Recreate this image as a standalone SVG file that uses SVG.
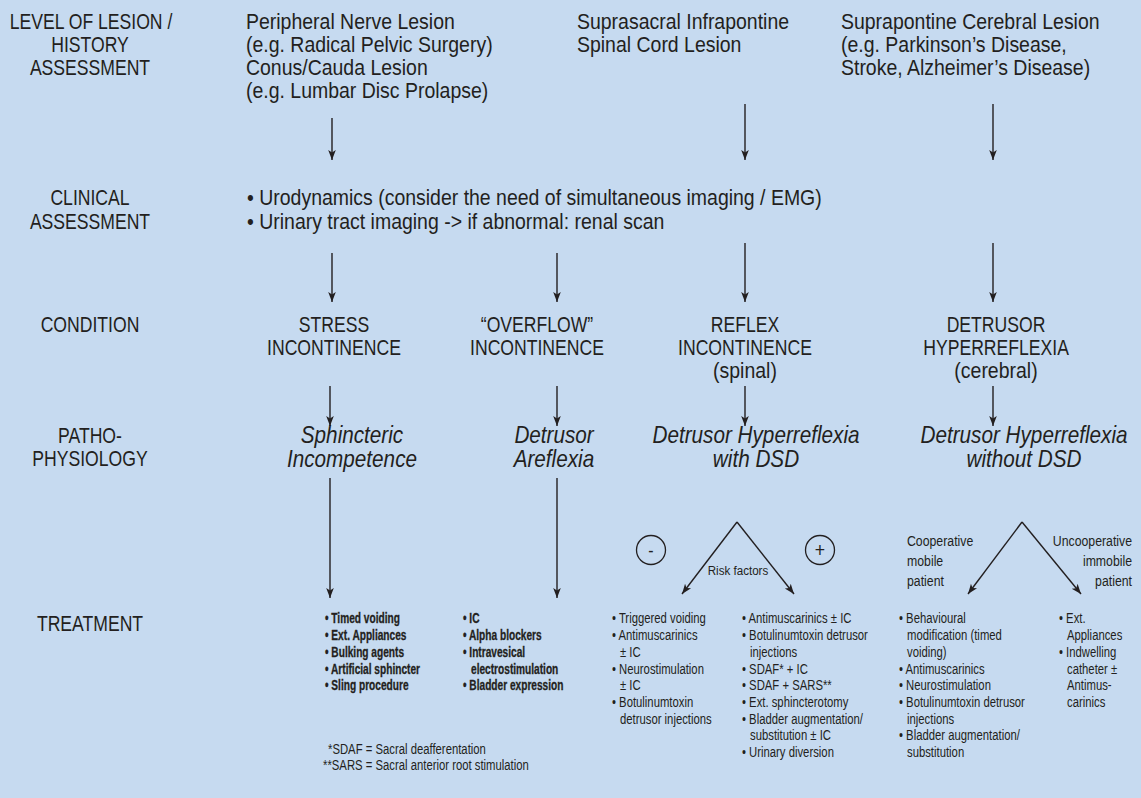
<svg xmlns="http://www.w3.org/2000/svg" width="1141" height="798" viewBox="0 0 1141 798">
<defs>
<marker id="ah" viewBox="0 0 10 10" refX="10" refY="5" markerWidth="10" markerHeight="10" markerUnits="userSpaceOnUse" orient="auto">
<path d="M0,1.2 L10,5 L0,8.8 L2.5,5 Z" fill="#231f20"/>
</marker>
<style>
text{font-family:"Liberation Sans",Arial,sans-serif;fill:#231f20;transform-box:fill-box}
.st{transform-origin:0% 50%}
.mid{text-anchor:middle;transform-origin:50% 50%}
.end{text-anchor:end;transform-origin:100% 50%}
.C{font-size:22px;transform:scaleX(.8)}
.L{font-size:22px;transform:scaleX(.885)}
.I{font-size:23px;font-style:italic;transform:scaleX(.9)}
.S{font-size:14.5px;transform:scaleX(.78)}
.B{font-size:14.5px;font-weight:bold;transform:scaleX(.7);stroke:#231f20;stroke-width:.3}
.M{font-size:15px;transform:scaleX(.82)}
.R{font-size:13.5px;transform:scaleX(.86)}
.con line{stroke:#231f20;stroke-width:1.4;fill:none}
.ar{marker-end:url(#ah)}
.circ{fill:none;stroke:#231f20;stroke-width:1.3}
</style>
</defs>
<rect x="0" y="0" width="1141" height="798" fill="#c6daf0"/>

<g id="labels">
<text class="C mid" x="91" y="29">LEVEL OF LESION /</text>
<text class="C mid" x="90" y="52">HISTORY</text>
<text class="C mid" x="90" y="75">ASSESSMENT</text>
<text class="C mid" x="90" y="205">CLINICAL</text>
<text class="C mid" x="90" y="229">ASSESSMENT</text>
<text class="C mid" x="90" y="332">CONDITION</text>
<text class="C mid" x="90" y="443">PATHO-</text>
<text class="C mid" x="90" y="466">PHYSIOLOGY</text>
<text class="C mid" x="90" y="631">TREATMENT</text>
</g>

<g id="lesion-peripheral">
<text class="L st" x="246" y="29">Peripheral Nerve Lesion</text>
<text class="L st" x="246" y="52">(e.g. Radical Pelvic Surgery)</text>
<text class="L st" x="246" y="75">Conus/Cauda Lesion</text>
<text class="L st" x="246" y="98">(e.g. Lumbar Disc Prolapse)</text>
</g>
<g id="lesion-spinal">
<text class="L st" x="577" y="29">Suprasacral Infrapontine</text>
<text class="L st" x="577" y="52">Spinal Cord Lesion</text>
</g>
<g id="lesion-cerebral">
<text class="L st" x="841" y="29">Suprapontine Cerebral Lesion</text>
<text class="L st" x="841" y="52">(e.g. Parkinson’s Disease,</text>
<text class="L st" x="841" y="75">Stroke, Alzheimer’s Disease)</text>
</g>

<g id="clinical">
<text class="L st" x="247" y="205">• Urodynamics (consider the need of simultaneous imaging / EMG)</text>
<text class="L st" x="247" y="229">• Urinary tract imaging -&gt; if abnormal: renal scan</text>
</g>

<g id="cond-stress">
<text class="C mid" x="334" y="332">STRESS</text>
<text class="C mid" x="334" y="355">INCONTINENCE</text>
</g>
<g id="cond-overflow">
<text class="C mid" x="537" y="332">“OVERFLOW”</text>
<text class="C mid" x="537" y="355">INCONTINENCE</text>
</g>
<g id="cond-reflex">
<text class="C mid" x="745" y="332">REFLEX</text>
<text class="C mid" x="745" y="355">INCONTINENCE</text>
<text class="L mid" x="745" y="378">(spinal)</text>
</g>
<g id="cond-detrusor">
<text class="C mid" x="996" y="332">DETRUSOR</text>
<text class="C mid" x="996" y="355">HYPERREFLEXIA</text>
<text class="L mid" x="996" y="378">(cerebral)</text>
</g>

<g id="patho-sphincteric">
<text class="I mid" x="352" y="443">Sphincteric</text>
<text class="I mid" x="352" y="467">Incompetence</text>
</g>
<g id="patho-areflexia">
<text class="I mid" x="554" y="443">Detrusor</text>
<text class="I mid" x="554" y="467">Areflexia</text>
</g>
<g id="patho-dsd">
<text class="I mid" x="756" y="443">Detrusor Hyperreflexia</text>
<text class="I mid" x="756" y="467">with DSD</text>
</g>
<g id="patho-nodsd">
<text class="I mid" x="1024" y="443">Detrusor Hyperreflexia</text>
<text class="I mid" x="1024" y="467">without DSD</text>
</g>

<g id="minus">
<circle class="circ" cx="651" cy="550" r="14.5"/>
<text class="L mid" x="651" y="557" style="font-size:18px">-</text>
</g>
<g id="plus">
<circle class="circ" cx="820" cy="550" r="14.5"/>
<text class="L mid" x="820" y="557.5" style="font-size:20px">+</text>
</g>
<g id="risk-label">
<text class="R mid" x="738" y="575">Risk factors</text>
</g>
<g id="coop-label">
<text class="M st" x="907" y="546">Cooperative</text>
<text class="M st" x="907" y="566">mobile</text>
<text class="M st" x="907" y="586">patient</text>
</g>
<g id="uncoop-label">
<text class="M end" x="1132" y="546">Uncooperative</text>
<text class="M end" x="1132" y="566">immobile</text>
<text class="M end" x="1132" y="586">patient</text>
</g>

<g id="treat-stress">
<text class="B st" x="325" y="623.5">• Timed voiding</text>
<text class="B st" x="325" y="640.2">• Ext. Appliances</text>
<text class="B st" x="325" y="656.9">• Bulking agents</text>
<text class="B st" x="325" y="673.6">• Artificial sphincter</text>
<text class="B st" x="325" y="690.3">• Sling procedure</text>
</g>
<g id="treat-overflow">
<text class="B st" x="463" y="623.5">• IC</text>
<text class="B st" x="463" y="640.2">• Alpha blockers</text>
<text class="B st" x="463" y="656.9">• Intravesical</text>
<text class="B st" x="471" y="673.6">electrostimulation</text>
<text class="B st" x="463" y="690.3">• Bladder expression</text>
</g>
<g id="footnotes">
<text class="S st" x="328" y="754.5">*SDAF = Sacral deafferentation</text>
<text class="S st" x="323" y="770">**SARS = Sacral anterior root stimulation</text>
</g>
<g id="treat-minus">
<text class="S st" x="612" y="623.5">• Triggered voiding</text>
<text class="S st" x="612" y="640.2">• Antimuscarinics</text>
<text class="S st" x="620" y="656.9">± IC</text>
<text class="S st" x="612" y="673.6">• Neurostimulation</text>
<text class="S st" x="620" y="690.3">± IC</text>
<text class="S st" x="612" y="707">• Botulinumtoxin</text>
<text class="S st" x="620" y="723.7">detrusor injections</text>
</g>
<g id="treat-plus">
<text class="S st" x="742" y="623.5">• Antimuscarinics ± IC</text>
<text class="S st" x="742" y="640.2">• Botulinumtoxin detrusor</text>
<text class="S st" x="750" y="656.9">injections</text>
<text class="S st" x="742" y="673.6">• SDAF* + IC</text>
<text class="S st" x="742" y="690.3">• SDAF + SARS**</text>
<text class="S st" x="742" y="707">• Ext. sphincterotomy</text>
<text class="S st" x="742" y="723.7">• Bladder augmentation/</text>
<text class="S st" x="750" y="740.4">substitution ± IC</text>
<text class="S st" x="742" y="757.1">• Urinary diversion</text>
</g>
<g id="treat-coop">
<text class="S st" x="899" y="623.5">• Behavioural</text>
<text class="S st" x="907" y="640.2">modification (timed</text>
<text class="S st" x="907" y="656.9">voiding)</text>
<text class="S st" x="899" y="673.6">• Antimuscarinics</text>
<text class="S st" x="899" y="690.3">• Neurostimulation</text>
<text class="S st" x="899" y="707">• Botulinumtoxin detrusor</text>
<text class="S st" x="907" y="723.7">injections</text>
<text class="S st" x="899" y="740.4">• Bladder augmentation/</text>
<text class="S st" x="907" y="757.1">substitution</text>
</g>
<g id="treat-uncoop">
<text class="S st" x="1059" y="623.5">• Ext.</text>
<text class="S st" x="1067" y="640.2">Appliances</text>
<text class="S st" x="1059" y="656.9">• Indwelling</text>
<text class="S st" x="1067" y="673.6">catheter ±</text>
<text class="S st" x="1067" y="690.3">Antimus-</text>
<text class="S st" x="1067" y="707">carinics</text>
</g>

<g id="connectors" class="con">
<line class="ar" x1="332" y1="118" x2="332" y2="160"/>
<line class="ar" x1="745" y1="104" x2="745" y2="160"/>
<line class="ar" x1="993" y1="104" x2="993" y2="160"/>
<line class="ar" x1="332" y1="253" x2="332" y2="302"/>
<line class="ar" x1="557" y1="253" x2="557" y2="302"/>
<line class="ar" x1="745" y1="243" x2="745" y2="302"/>
<line class="ar" x1="993" y1="243" x2="993" y2="302"/>
<line class="ar" x1="330" y1="386" x2="330" y2="426"/>
<line class="ar" x1="557" y1="386" x2="557" y2="426"/>
<line class="ar" x1="745" y1="386" x2="745" y2="426"/>
<line class="ar" x1="993" y1="386" x2="993" y2="426"/>
<line class="ar" x1="330" y1="478" x2="330" y2="598"/>
<line class="ar" x1="557" y1="478" x2="557" y2="598"/>
<line class="ar" x1="737" y1="522" x2="682" y2="594"/>
<line class="ar" x1="737" y1="522" x2="794" y2="594"/>
<line class="ar" x1="1022" y1="522" x2="968" y2="594"/>
<line class="ar" x1="1022" y1="522" x2="1081" y2="594"/>
</g>
</svg>
